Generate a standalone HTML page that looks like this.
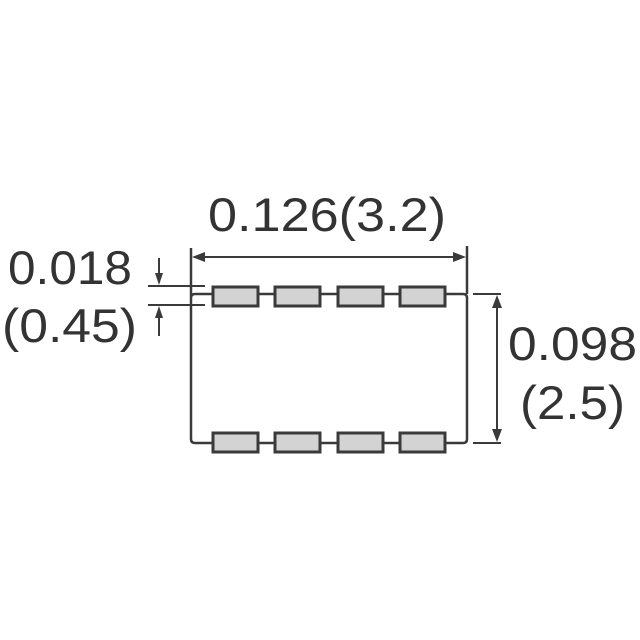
<!DOCTYPE html>
<html><head><style>body{margin:0;background:#fff}svg{display:block}</style></head><body>
<svg width="640" height="640" viewBox="0 0 640 640" xmlns="http://www.w3.org/2000/svg">
<g stroke="#3a3a3a" fill="none" stroke-width="2.5">
<path d="M191 248 V439 Q191 443 195 443 H463 Q467 443 467 439 V298 Q467 294 463 294 H195 Q191 294 191 298"/>
<line x1="467" y1="246" x2="467" y2="294"/>
<line x1="200" y1="257" x2="458" y2="257" stroke-width="2"/>
<line x1="148" y1="286" x2="205" y2="286" stroke-width="2"/>
<line x1="148" y1="305" x2="205" y2="305" stroke-width="2"/>
<line x1="473" y1="294" x2="501" y2="294" stroke-width="2"/>
<line x1="473" y1="443" x2="501" y2="443" stroke-width="2"/>
<line x1="497" y1="305" x2="497" y2="432" stroke-width="2"/>
<line x1="159" y1="258" x2="159" y2="276" stroke-width="2"/>
<line x1="159" y1="316" x2="159" y2="336" stroke-width="2"/>
</g>
<g fill="#3a3a3a">
<polygon points="192,257 205,252 205,262"/>
<polygon points="466,257 453,252 453,262"/>
<polygon points="497,295 492,308 502,308"/>
<polygon points="497,442 492,429 502,429"/>
<polygon points="159,285 155,273 163,273"/>
<polygon points="159,306 155,318 163,318"/>
</g>
<g fill="#d3d3d3" stroke="#3a3a3a" stroke-width="3">
<rect x="213" y="287" width="45" height="19"/><rect x="275" y="287" width="45" height="19"/><rect x="338" y="287" width="45" height="19"/><rect x="400" y="287" width="45" height="19"/>
<rect x="213" y="433" width="45" height="19"/><rect x="275" y="433" width="45" height="19"/><rect x="338" y="433" width="45" height="19"/><rect x="400" y="433" width="45" height="19"/>
</g>
<g font-family="Liberation Sans, sans-serif" font-size="47" fill="#333">
<text x="208" y="231" textLength="238" lengthAdjust="spacingAndGlyphs">0.126(3.2)</text>
<text x="8" y="284" textLength="124" lengthAdjust="spacingAndGlyphs">0.018</text>
<text x="2" y="342" textLength="135" lengthAdjust="spacingAndGlyphs">(0.45)</text>
<text x="508" y="360" textLength="129" lengthAdjust="spacingAndGlyphs">0.098</text>
<text x="520" y="419" textLength="105" lengthAdjust="spacingAndGlyphs">(2.5)</text>
</g>
</svg>
</body></html>
